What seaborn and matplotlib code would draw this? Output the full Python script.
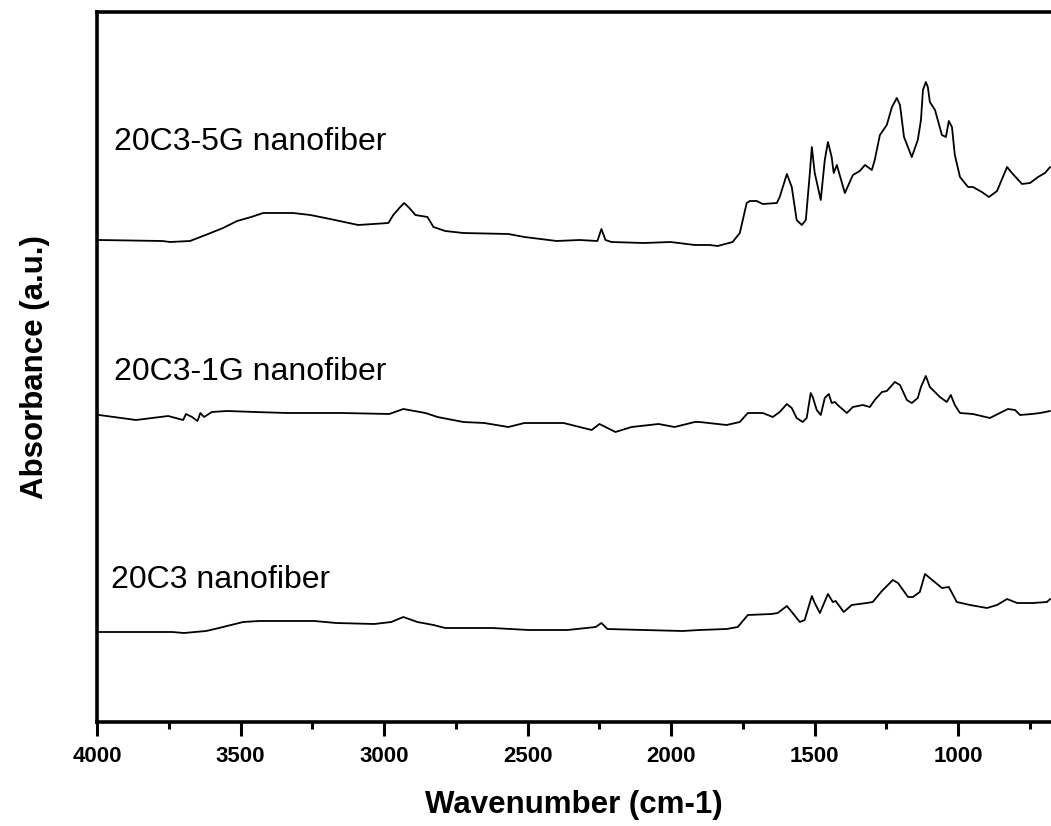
import numpy as np
import pandas as pd
import matplotlib
matplotlib.use("Agg")
import matplotlib.pyplot as plt
from matplotlib.ticker import MultipleLocator
import seaborn as sns

# ---------------- data ----------------
samples = ["20C3-5G nanofiber", "20C3-1G nanofiber", "20C3 nanofiber"]

wn_5g = [3993, 3773, 3745, 3676, 3613, 3561, 3512, 3463, 3421, 3317, 3257, 3188,
         3090, 2985, 2968, 2947, 2930, 2912, 2891, 2849, 2828, 2787, 2724, 2567,
         2511, 2399, 2319, 2257, 2243, 2229, 2208, 2096, 2002, 1918, 1866,
         1838, 1786, 1761, 1737, 1726, 1702, 1681, 1632, 1622, 1597, 1580, 1563,
         1545, 1531, 1517, 1510, 1500, 1479, 1465, 1454, 1441, 1434, 1423, 1413,
         1395, 1367, 1343, 1325, 1301, 1291, 1273, 1249, 1231, 1214, 1203, 1189,
         1162, 1141, 1130, 1123, 1113, 1106, 1099, 1081, 1057, 1043, 1033, 1022,
         1012, 994, 966, 949, 918, 893, 865, 830, 813, 778, 750, 722, 698, 680]
abs_5g = [4.82, 4.81, 4.80, 4.81, 4.88, 4.94, 5.01, 5.05, 5.09, 5.09, 5.07, 5.03,
          4.97, 4.99, 5.07, 5.14, 5.19, 5.14, 5.07, 5.05, 4.95, 4.91, 4.89, 4.88,
          4.85, 4.81, 4.82, 4.81, 4.93, 4.82, 4.80, 4.79, 4.80, 4.77, 4.77,
          4.76, 4.80, 4.89, 5.19, 5.21, 5.21, 5.18, 5.19, 5.25, 5.48, 5.35, 5.02,
          4.97, 5.02, 5.49, 5.75, 5.49, 5.22, 5.62, 5.80, 5.65, 5.49, 5.57, 5.47,
          5.29, 5.47, 5.51, 5.57, 5.52, 5.62, 5.87, 5.97, 6.15, 6.24, 6.17, 5.85,
          5.65, 5.82, 6.02, 6.32, 6.40, 6.35, 6.20, 6.12, 5.87, 5.85, 6.01, 5.95,
          5.67, 5.45, 5.35, 5.35, 5.30, 5.25, 5.31, 5.55, 5.49, 5.38, 5.39, 5.45,
          5.49, 5.55]

wn_1g = [3993, 3864, 3752, 3700, 3690, 3669, 3650, 3640, 3627, 3600, 3547, 3449,
         3337, 3146, 2982, 2933, 2856, 2814, 2724, 2651, 2567, 2511, 2375, 2277,
         2250, 2194, 2138, 2044, 1988, 1918,
         1901, 1807, 1761, 1733, 1681, 1646, 1622, 1597, 1580, 1563, 1542, 1528,
         1514, 1507, 1493, 1479, 1465, 1451, 1441, 1430, 1420, 1388, 1367, 1333,
         1308, 1291, 1266, 1249, 1221, 1203, 1179, 1162, 1141, 1130, 1113, 1099,
         1064, 1040, 1026, 1012, 994, 949, 890, 862, 827, 802, 785, 743, 715, 680]
abs_1g = [3.07, 3.02, 3.06, 3.02, 3.08, 3.05, 3.01, 3.09, 3.05, 3.10, 3.11, 3.10,
          3.09, 3.09, 3.08, 3.13, 3.09, 3.05, 3.00, 2.99, 2.95, 2.99, 2.99, 2.92,
          2.98, 2.90, 2.95, 2.98, 2.95, 3.00,
          3.00, 2.97, 3.00, 3.09, 3.09, 3.05, 3.10, 3.18, 3.14, 3.04, 3.00, 3.04,
          3.29, 3.25, 3.12, 3.07, 3.24, 3.28, 3.19, 3.20, 3.17, 3.09, 3.15, 3.17,
          3.15, 3.22, 3.30, 3.31, 3.40, 3.37, 3.22, 3.19, 3.24, 3.35, 3.46, 3.35,
          3.25, 3.20, 3.27, 3.17, 3.09, 3.08, 3.04, 3.08, 3.13, 3.12, 3.07, 3.08,
          3.09, 3.11]

wn_c3 = [3993, 3902, 3808, 3738, 3697, 3620, 3575, 3491, 3435, 3243, 3167, 3034,
         2975, 2933, 2884, 2828, 2787, 2623, 2497, 2361, 2263, 2243, 2222, 2096,
         1960,
         1901, 1807, 1768, 1733, 1650, 1629, 1597, 1577, 1552, 1535, 1510, 1500,
         1482, 1454, 1437, 1427, 1399, 1371, 1319, 1298, 1266, 1228, 1210, 1175,
         1158, 1134, 1116, 1099, 1057, 1033, 1005, 959, 900, 865, 830, 795, 740,
         691, 680]
abs_c3 = [0.90, 0.90, 0.90, 0.90, 0.89, 0.91, 0.94, 1.00, 1.01, 1.01, 0.99, 0.98,
          1.00, 1.05, 1.00, 0.97, 0.94, 0.94, 0.92, 0.92, 0.95, 0.99, 0.93, 0.92,
          0.91,
          0.92, 0.93, 0.95, 1.07, 1.08, 1.09, 1.16, 1.09, 1.00, 1.02, 1.26, 1.19,
          1.09, 1.28, 1.20, 1.21, 1.10, 1.17, 1.19, 1.20, 1.31, 1.42, 1.39, 1.25,
          1.25, 1.30, 1.48, 1.44, 1.34, 1.35, 1.20, 1.17, 1.14, 1.17, 1.23, 1.19,
          1.19, 1.20, 1.23]

label_wn = [3941, 3941, 3951]
label_abs = [5.72, 3.42, 1.34]

x_ticks = [4000, 3500, 3000, 2500, 2000, 1500, 1000]

# ---------------- build table ----------------
frames = []
for name, w, a in zip(samples, [wn_5g, wn_1g, wn_c3], [abs_5g, abs_1g, abs_c3]):
    frames.append(pd.DataFrame({"wn": w, "abs": a, "sample": name}))
df = pd.concat(frames, ignore_index=True)

# ---------------- plot ----------------
sns.set_style("ticks")
plt.rcParams["font.family"] = ["Liberation Sans", "DejaVu Sans"]
plt.rcParams["text.color"] = "black"
plt.rcParams["axes.labelcolor"] = "black"
plt.rcParams["xtick.color"] = "black"

fig = plt.figure(figsize=(10.51, 8.26), dpi=100)
ax = fig.add_axes([97 / 1051, 1 - 722 / 826, 1 - 97 / 1051, (722 - 12) / 826])

sns.lineplot(data=df, x="wn", y="abs", hue="sample", palette=["black"] * 3,
             estimator=None, sort=False, legend=False, linewidth=1.3, ax=ax)

ax.set_xlim(4000, 677)
ax.set_ylim(0, 7.10)
ax.set_xticks(x_ticks)
ax.set_xticklabels([str(t) for t in x_ticks])
ax.xaxis.set_minor_locator(MultipleLocator(250))
ax.set_yticks([])

for side in ["left", "top", "bottom"]:
    ax.spines[side].set_linewidth(2.6)
    ax.spines[side].set_color("black")
ax.spines["right"].set_visible(False)

ax.tick_params(axis="x", which="major", direction="out", length=10, width=2.2,
               pad=7, labelsize=16, colors="black")
ax.tick_params(axis="x", which="minor", direction="out", length=5, width=2.2,
               colors="black")
for lbl in ax.get_xticklabels():
    lbl.set_fontweight("bold")

ax.set_xlabel("Wavenumber (cm-1)", fontsize=22.5, fontweight="bold",
              labelpad=17, color="black")
ax.set_ylabel("Absorbance (a.u.)", fontsize=22.5, fontweight="bold",
              labelpad=34, color="black")

for name, xw, ya in zip(samples, label_wn, label_abs):
    ax.text(xw, ya, name, fontsize=23, ha="left", va="baseline", color="black")

fig.savefig("out.png", dpi=100)
